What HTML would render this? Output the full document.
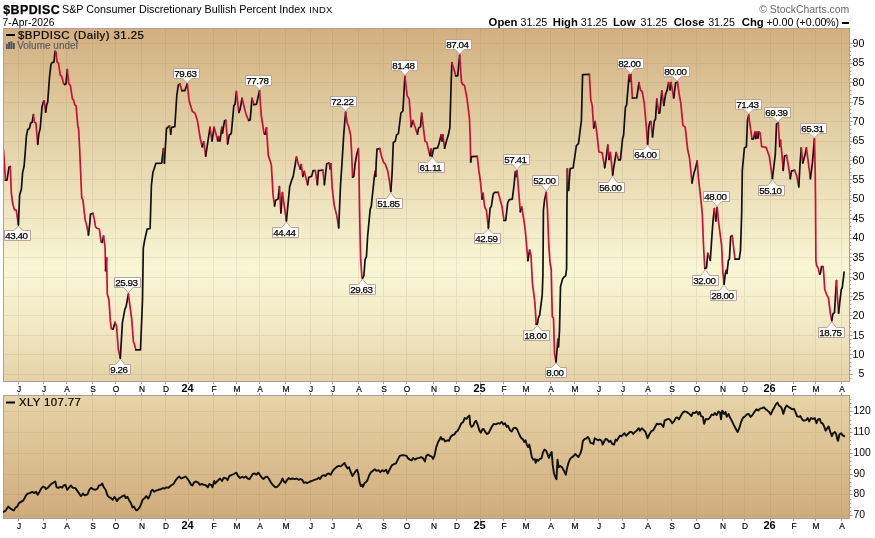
<!DOCTYPE html>
<html lang="en"><head><meta charset="utf-8"><title>$BPDISC - StockCharts</title>
<style>
#txt{position:absolute;left:0;top:0;width:875px;height:538px;opacity:0.999;will-change:transform;}
.r{stroke:#d00c38;}.k{stroke:#111;}
html,body{margin:0;padding:0;background:#fff;}
body{width:875px;height:538px;position:relative;overflow:hidden;font-family:"Liberation Sans",sans-serif;color:#000;}
.t{position:absolute;white-space:nowrap;line-height:1;}
.ttl{left:3.2px;top:4.1px;font-size:12.4px;font-weight:bold;letter-spacing:0.45px;-webkit-text-stroke:0.25px #000;}
.sub{left:62px;top:3.6px;font-size:10.75px;}
.indx{left:309.3px;top:5.2px;font-size:9.4px;letter-spacing:0.2px;}
.date{left:2.6px;top:17.5px;font-size:10.3px;letter-spacing:0.05px;}
.copy{right:25.7px;top:5.2px;font-size:10.45px;color:#6a6a6a;}
.oh{top:16.6px;font-size:10.67px;}
.oh b{font-weight:bold;font-size:11.3px;}
.leg{font-size:10px;letter-spacing:0.41px;transform:scaleX(1.14);transform-origin:0 0;-webkit-text-stroke:0.2px #000;}
.vol{font-size:10px;color:#595c68;letter-spacing:0px;-webkit-text-stroke:0.15px #595c68;}
.ax{position:absolute;left:852.6px;font-size:10.6px;line-height:1;white-space:nowrap;}
.mo{position:absolute;font-size:9.6px;line-height:1;width:30px;text-align:center;white-space:nowrap;transform:scaleX(0.87);-webkit-text-stroke:0.2px #000;}
.mo.yr{font-size:11px;font-weight:bold;transform:none;-webkit-text-stroke:0;}
.dl{position:absolute;font-size:9.8px;line-height:10px;height:10px;text-align:center;white-space:nowrap;color:#000;letter-spacing:-0.45px;-webkit-text-stroke:0.25px #000;}
</style></head><body>
<svg width="875" height="538" viewBox="0 0 875 538" style="position:absolute;left:0;top:0">
<defs>
<linearGradient id="g1" x1="0" y1="0" x2="0" y2="1"><stop offset="0" stop-color="#d3af80"/><stop offset="0.23" stop-color="#dfca9e"/><stop offset="0.46" stop-color="#ece0b9"/><stop offset="0.68" stop-color="#f9f6d4"/><stop offset="0.85" stop-color="#f2e8c3"/><stop offset="1" stop-color="#e5d1a5"/></linearGradient>
<linearGradient id="g2" x1="0" y1="0" x2="0" y2="1"><stop offset="0" stop-color="#e7d4a7"/><stop offset="1" stop-color="#d0ab7c"/></linearGradient>
</defs>
<rect x="3.5" y="28.5" width="846" height="353" fill="url(#g1)" stroke="#b39c9c" stroke-width="1"/>
<rect x="3.5" y="395.5" width="846" height="123" fill="url(#g2)" stroke="#b39c9c" stroke-width="1"/>
<path d="M18.5 29V381M18.5 396V518M43.5 29V381M43.5 396V518M66.5 29V381M66.5 396V518M92.5 29V381M92.5 396V518M115.5 29V381M115.5 396V518M141.5 29V381M141.5 396V518M165.5 29V381M165.5 396V518M188.5 29V381M188.5 396V518M213.5 29V381M213.5 396V518M236.5 29V381M236.5 396V518M259.5 29V381M259.5 396V518M285.5 29V381M285.5 396V518M310.5 29V381M310.5 396V518M332.5 29V381M332.5 396V518M358.5 29V381M358.5 396V518M383.5 29V381M383.5 396V518M406.5 29V381M406.5 396V518M433.5 29V381M433.5 396V518M456.5 29V381M456.5 396V518M480.5 29V381M480.5 396V518M503.5 29V381M503.5 396V518M525.5 29V381M525.5 396V518M550.5 29V381M550.5 396V518M574.5 29V381M574.5 396V518M598.5 29V381M598.5 396V518M622.5 29V381M622.5 396V518M647.5 29V381M647.5 396V518M671.5 29V381M671.5 396V518M696.5 29V381M696.5 396V518M722.5 29V381M722.5 396V518M744.5 29V381M744.5 396V518M770.5 29V381M770.5 396V518M793.5 29V381M793.5 396V518M815.5 29V381M815.5 396V518M841.5 29V381M841.5 396V518M4 374.5H849M4 354.5H849M4 335.5H849M4 315.5H849M4 296.5H849M4 277.5H849M4 257.5H849M4 238.5H849M4 218.5H849M4 199.5H849M4 179.5H849M4 160.5H849M4 141.5H849M4 121.5H849M4 102.5H849M4 82.5H849M4 63.5H849M4 43.5H849M4 515.5H849M4 494.5H849M4 474.5H849M4 453.5H849M4 432.5H849M4 411.5H849" stroke="rgba(108,96,84,0.11)" stroke-width="1" fill="none" shape-rendering="crispEdges"/>
<path d="M850 378.5h1.3M850 374.5h2.6M850 370.5h1.3M850 366.5h1.3M850 362.5h1.3M850 358.5h1.3M850 354.5h2.6M850 350.5h1.3M850 347.5h1.3M850 343.5h1.3M850 339.5h1.3M850 335.5h2.6M850 331.5h1.3M850 327.5h1.3M850 323.5h1.3M850 319.5h1.3M850 315.5h2.6M850 312.5h1.3M850 308.5h1.3M850 304.5h1.3M850 300.5h1.3M850 296.5h2.6M850 292.5h1.3M850 288.5h1.3M850 284.5h1.3M850 280.5h1.3M850 277.5h2.6M850 273.5h1.3M850 269.5h1.3M850 265.5h1.3M850 261.5h1.3M850 257.5h2.6M850 253.5h1.3M850 249.5h1.3M850 245.5h1.3M850 242.5h1.3M850 238.5h2.6M850 234.5h1.3M850 230.5h1.3M850 226.5h1.3M850 222.5h1.3M850 218.5h2.6M850 214.5h1.3M850 210.5h1.3M850 207.5h1.3M850 203.5h1.3M850 199.5h2.6M850 195.5h1.3M850 191.5h1.3M850 187.5h1.3M850 183.5h1.3M850 179.5h2.6M850 175.5h1.3M850 172.5h1.3M850 168.5h1.3M850 164.5h1.3M850 160.5h2.6M850 156.5h1.3M850 152.5h1.3M850 148.5h1.3M850 144.5h1.3M850 141.5h2.6M850 137.5h1.3M850 133.5h1.3M850 129.5h1.3M850 125.5h1.3M850 121.5h2.6M850 117.5h1.3M850 113.5h1.3M850 109.5h1.3M850 106.5h1.3M850 102.5h2.6M850 98.5h1.3M850 94.5h1.3M850 90.5h1.3M850 86.5h1.3M850 82.5h2.6M850 78.5h1.3M850 74.5h1.3M850 71.5h1.3M850 67.5h1.3M850 63.5h2.6M850 59.5h1.3M850 55.5h1.3M850 51.5h1.3M850 47.5h1.3M850 43.5h2.6M850 515.5h2.6M850 511.5h1.3M850 507.5h1.3M850 503.5h1.3M850 499.5h1.3M850 494.5h2.6M850 490.5h1.3M850 486.5h1.3M850 482.5h1.3M850 478.5h1.3M850 474.5h2.6M850 469.5h1.3M850 465.5h1.3M850 461.5h1.3M850 457.5h1.3M850 453.5h2.6M850 449.5h1.3M850 444.5h1.3M850 440.5h1.3M850 436.5h1.3M850 432.5h2.6M850 428.5h1.3M850 424.5h1.3M850 420.5h1.3M850 415.5h1.3M850 411.5h2.6M850 407.5h1.3M850 403.5h1.3M850 399.5h1.3M18.5 382v2M18.5 393v2M18.5 519v2M43.5 382v2M43.5 393v2M43.5 519v2M66.5 382v2M66.5 393v2M66.5 519v2M92.5 382v2M92.5 393v2M92.5 519v2M115.5 382v2M115.5 393v2M115.5 519v2M141.5 382v2M141.5 393v2M141.5 519v2M165.5 382v2M165.5 393v2M165.5 519v2M188.5 382v2M188.5 393v2M188.5 519v2M213.5 382v2M213.5 393v2M213.5 519v2M236.5 382v2M236.5 393v2M236.5 519v2M259.5 382v2M259.5 393v2M259.5 519v2M285.5 382v2M285.5 393v2M285.5 519v2M310.5 382v2M310.5 393v2M310.5 519v2M332.5 382v2M332.5 393v2M332.5 519v2M358.5 382v2M358.5 393v2M358.5 519v2M383.5 382v2M383.5 393v2M383.5 519v2M406.5 382v2M406.5 393v2M406.5 519v2M433.5 382v2M433.5 393v2M433.5 519v2M456.5 382v2M456.5 393v2M456.5 519v2M480.5 382v2M480.5 393v2M480.5 519v2M503.5 382v2M503.5 393v2M503.5 519v2M525.5 382v2M525.5 393v2M525.5 519v2M550.5 382v2M550.5 393v2M550.5 519v2M574.5 382v2M574.5 393v2M574.5 519v2M598.5 382v2M598.5 393v2M598.5 519v2M622.5 382v2M622.5 393v2M622.5 519v2M647.5 382v2M647.5 393v2M647.5 519v2M671.5 382v2M671.5 393v2M671.5 519v2M696.5 382v2M696.5 393v2M696.5 519v2M722.5 382v2M722.5 393v2M722.5 519v2M744.5 382v2M744.5 393v2M744.5 519v2M770.5 382v2M770.5 393v2M770.5 519v2M793.5 382v2M793.5 393v2M793.5 519v2M815.5 382v2M815.5 393v2M815.5 519v2M841.5 382v2M841.5 393v2M841.5 519v2" stroke="#b39c9c" stroke-width="1" fill="none"/>
<path d="M18.5 532v1M43.5 532v1M66.5 532v1M92.5 532v1M115.5 532v1M141.5 532v1M165.5 532v1M188.5 532v1M213.5 532v1M236.5 532v1M259.5 532v1M285.5 532v1M310.5 532v1M332.5 532v1M358.5 532v1M383.5 532v1M406.5 532v1M433.5 532v1M456.5 532v1M480.5 532v1M503.5 532v1M525.5 532v1M550.5 532v1M574.5 532v1M598.5 532v1M622.5 532v1M647.5 532v1M671.5 532v1M696.5 532v1M722.5 532v1M744.5 532v1M770.5 532v1M793.5 532v1M815.5 532v1M841.5 532v1" stroke="#b39c9c" stroke-opacity="0.35" stroke-width="1" fill="none"/>
<clipPath id="c1"><rect x="4" y="29" width="845" height="352"/></clipPath>
<g clip-path="url(#c1)" fill="none" stroke-width="1.7" stroke-linejoin="round" stroke-linecap="round">
<path class="r" d="M3.5 150.0L4.5 165.0L5.5 180.2"/>
<path class="k" d="M5.5 180.2L7.0 180.2L9.0 167.1L10.3 166.6"/>
<path class="r" d="M10.3 166.6L11.3 192.7L12.6 202.8L14.3 209.6L16.3 210.3L18.4 224.9"/>
<path class="k" d="M18.4 224.9L19.6 195.3L21.4 189.0L22.6 172.6L24.1 166.3L24.6 160.0L25.4 150.0L26.4 136.0L27.6 129.8L29.4 128.5L30.7 123.0L32.2 122.2L33.4 114.7"/>
<path class="r" d="M33.4 114.7L34.4 122.2L35.9 123.0L37.7 144.3"/>
<path class="k" d="M37.7 144.3L38.9 133.5L40.2 128.5L42.0 107.0L43.5 101.4L44.2 100.9"/>
<path class="r" d="M44.2 100.9L45.7 112.2"/>
<path class="k" d="M45.7 112.2L46.7 104.6L47.7 102.1L49.5 77.0L51.0 64.4L52.0 62.7L54.0 61.9L55.0 51.4"/>
<path class="r" d="M55.0 51.4L56.0 51.9L57.0 61.9L58.5 63.2L60.3 75.2L61.8 76.5L63.6 83.8L64.8 84.5"/>
<path class="k" d="M64.8 84.5L66.0 83.8L67.3 69.5"/>
<path class="r" d="M67.3 69.5L68.8 83.8L70.4 85.3L72.4 98.9L73.6 100.1L74.6 104.6L76.1 105.9L77.9 127.2L78.6 128.5L79.7 150.0L81.7 197.8L83.0 200.3L85.0 219.1L86.7 225.4L88.5 235.0"/>
<path class="k" d="M88.5 235.0L89.8 222.9L90.5 214.1L93.0 213.4"/>
<path class="r" d="M93.0 213.4L94.3 219.1L95.5 226.7L96.8 228.3L99.3 229.0L101.1 241.8L102.1 242.3"/>
<path class="k" d="M102.1 242.3L103.6 236.0"/>
<path class="r" d="M103.6 236.0L105.1 248.1L105.6 270.7"/>
<path class="k" d="M105.6 270.7L106.6 258.1"/>
<path class="r" d="M106.6 258.1L107.3 294.0L109.0 300.3L110.3 320.4L111.3 328.7L113.0 329.2"/>
<path class="k" d="M113.0 329.2L115.1 322.4"/>
<path class="r" d="M115.1 322.4L116.6 326.7L118.3 349.3L120.3 358.1"/>
<path class="k" d="M120.3 358.1L122.4 322.9L124.9 309.1L126.1 306.6L128.4 294.0"/>
<path class="r" d="M128.4 294.0L131.7 319.1L133.4 341.8L134.4 344.3L135.9 349.8"/>
<path class="k" d="M135.9 349.8L140.5 349.8L142.5 300.3L143.3 248.1L144.6 240.5L147.1 229.2L150.1 228.5L151.4 185.2L152.9 172.6L154.1 168.9L155.9 163.3L161.7 163.1L163.4 148.6"/>
<path class="r" d="M163.4 148.6L164.4 163.1"/>
<path class="k" d="M164.4 163.1L166.5 128.5L169.5 125.9"/>
<path class="r" d="M169.5 125.9L170.7 134.2"/>
<path class="k" d="M170.7 134.2L171.5 127.4L174.8 126.7L176.8 95.3L178.3 85.2L179.8 83.9"/>
<path class="r" d="M179.8 83.9L182.0 90.7"/>
<path class="k" d="M182.0 90.7L184.8 90.7L187.3 83.9"/>
<path class="r" d="M187.3 83.9L189.1 100.3L190.3 104.8L192.4 111.6L194.9 112.9L197.4 120.4L200.4 139.3L202.2 146.8"/>
<path class="k" d="M202.2 146.8L203.7 141.8"/>
<path class="r" d="M203.7 141.8L205.7 156.1"/>
<path class="k" d="M205.7 156.1L210.0 127.4"/>
<path class="r" d="M210.0 127.4L212.0 141.0"/>
<path class="k" d="M212.0 141.0L214.2 127.4"/>
<path class="r" d="M214.2 127.4L217.8 141.0"/>
<path class="k" d="M217.8 141.0L218.5 136.7"/>
<path class="r" d="M218.5 136.7L220.0 141.0"/>
<path class="k" d="M220.0 141.0L221.8 127.4"/>
<path class="r" d="M221.8 127.4L222.5 133.0"/>
<path class="k" d="M222.5 133.0L224.5 120.9L225.8 120.4"/>
<path class="r" d="M225.8 120.4L227.6 143.8"/>
<path class="k" d="M227.6 143.8L229.3 135.0L231.3 133.5L233.8 105.8L235.1 104.1L236.4 91.5"/>
<path class="r" d="M236.4 91.5L238.9 112.4"/>
<path class="k" d="M238.9 112.4L240.1 109.1L242.1 98.3"/>
<path class="r" d="M242.1 98.3L244.7 109.1L246.4 115.4L248.7 120.4"/>
<path class="k" d="M248.7 120.4L250.2 119.9L252.0 98.3"/>
<path class="r" d="M252.0 98.3L254.0 104.8"/>
<path class="k" d="M254.0 104.8L256.5 104.1L259.5 90.7"/>
<path class="r" d="M259.5 90.7L261.3 115.4L264.0 133.5L265.0 134.2"/>
<path class="k" d="M265.0 134.2L266.5 127.9"/>
<path class="r" d="M266.5 127.9L268.3 155.6L271.3 164.4L273.1 195.3L274.6 205.8"/>
<path class="k" d="M274.6 205.8L275.6 200.3L278.1 199.0L279.4 186.5"/>
<path class="r" d="M279.4 186.5L280.9 212.9"/>
<path class="k" d="M280.9 212.9L282.4 192.7"/>
<path class="r" d="M282.4 192.7L286.4 220.9"/>
<path class="k" d="M286.4 220.9L287.9 205.3L289.7 186.5L291.7 180.2L293.2 176.4L296.5 157.0"/>
<path class="r" d="M296.5 157.0L298.2 163.8L300.3 168.9"/>
<path class="k" d="M300.3 168.9L301.3 164.6"/>
<path class="r" d="M301.3 164.6L302.8 176.4"/>
<path class="k" d="M302.8 176.4L304.3 171.4"/>
<path class="r" d="M304.3 171.4L307.6 184.7"/>
<path class="k" d="M307.6 184.7L308.8 177.2L311.6 176.4L313.1 170.6L315.3 170.6"/>
<path class="r" d="M315.3 170.6L317.4 184.7"/>
<path class="k" d="M317.4 184.7L318.4 170.6L322.9 170.1"/>
<path class="r" d="M322.9 170.1L324.4 184.7"/>
<path class="k" d="M324.4 184.7L326.7 163.8L329.2 163.1"/>
<path class="r" d="M329.2 163.1L330.2 168.9"/>
<path class="k" d="M330.2 168.9L330.9 163.8"/>
<path class="r" d="M330.9 163.8L332.2 187.7L334.2 205.3L336.7 215.4L338.7 227.9"/>
<path class="k" d="M338.7 227.9L340.5 185.2L342.0 163.0L343.8 133.6L345.6 112.2"/>
<path class="r" d="M345.6 112.2L347.1 122.3L348.8 127.3L350.6 134.9L351.5 150.0L352.6 177.2"/>
<path class="k" d="M352.6 177.2L353.8 176.4L355.1 163.8L356.9 153.7L358.4 148.7"/>
<path class="r" d="M358.4 148.7L358.9 163.0L359.6 212.9L360.6 258.1L361.9 277.0L362.6 278.2"/>
<path class="k" d="M362.6 278.2L363.9 275.7L365.1 259.4L366.4 256.9L367.6 236.7L370.2 209.1L371.2 206.6L374.4 176.4L375.2 171.4"/>
<path class="r" d="M375.2 171.4L375.7 176.4"/>
<path class="k" d="M375.7 176.4L376.2 163.0L377.0 149.2L379.8 148.7"/>
<path class="r" d="M379.8 148.7L381.5 156.2L383.7 162.6L385.2 163.8L387.8 171.4L389.5 181.4L390.8 191.5"/>
<path class="k" d="M390.8 191.5L392.0 175.1L392.5 163.0L393.3 142.4L395.3 141.2L396.6 134.9L398.4 133.6L400.9 113.0L402.9 111.0L404.9 76.3"/>
<path class="r" d="M404.9 76.3L407.2 95.9L409.2 98.9L411.2 126.6"/>
<path class="k" d="M411.2 126.6L412.9 120.5"/>
<path class="r" d="M412.9 120.5L415.5 128.6L417.5 134.1"/>
<path class="k" d="M417.5 134.1L418.5 128.1L420.5 126.8L421.7 113.0"/>
<path class="r" d="M421.7 113.0L423.5 128.6L425.0 141.2L426.8 142.4L429.3 153.2L430.0 155.7"/>
<path class="k" d="M430.0 155.7L431.0 149.2"/>
<path class="r" d="M431.0 149.2L432.1 156.2"/>
<path class="k" d="M432.1 156.2L433.6 148.7L437.6 147.9L439.3 142.4L441.1 134.9"/>
<path class="r" d="M441.1 134.9L442.1 141.2"/>
<path class="k" d="M442.1 141.2L442.9 134.9"/>
<path class="r" d="M442.9 134.9L444.6 148.2"/>
<path class="k" d="M444.6 148.2L446.4 141.2L448.2 135.6L449.9 127.3L451.2 80.8L451.9 62.7"/>
<path class="r" d="M451.9 62.7L453.7 68.2L455.7 75.8"/>
<path class="k" d="M455.7 75.8L457.7 75.8L459.7 55.2"/>
<path class="r" d="M459.7 55.2L461.5 82.1L462.7 84.6L464.5 85.3L467.0 98.4L469.5 118.5L470.3 142.4L470.7 162.0"/>
<path class="k" d="M470.7 162.0L471.5 156.7L477.3 156.3"/>
<path class="r" d="M477.3 156.3L478.8 170.2L480.6 182.8L482.1 199.1"/>
<path class="k" d="M482.1 199.1L483.1 193.3"/>
<path class="r" d="M483.1 193.3L484.6 206.7L486.4 210.4L488.4 228.0"/>
<path class="k" d="M488.4 228.0L490.1 207.9L491.4 206.2L493.2 194.1L494.7 192.3L498.2 192.3"/>
<path class="r" d="M498.2 192.3L500.2 199.9L502.0 206.7L504.0 220.5"/>
<path class="k" d="M504.0 220.5L505.7 220.5L507.7 202.9L509.3 199.6L512.3 199.1L514.0 185.3L515.3 171.5"/>
<path class="r" d="M515.3 171.5L516.0 176.5"/>
<path class="k" d="M516.0 176.5L517.0 171.0"/>
<path class="r" d="M517.0 171.0L519.1 196.6L520.3 211.7"/>
<path class="k" d="M520.3 211.7L521.8 207.2"/>
<path class="r" d="M521.8 207.2L524.1 221.7L525.3 230.5L527.9 260.7"/>
<path class="k" d="M527.9 260.7L529.6 250.0"/>
<path class="r" d="M529.6 250.0L531.0 255.3L532.4 282.7L534.9 302.8L536.2 324.2"/>
<path class="k" d="M536.2 324.2L537.4 324.2L538.4 317.9L539.7 314.9L542.2 295.3L542.9 275.1L543.2 240.0L543.4 210.4L544.5 200.4L546.2 192.3"/>
<path class="r" d="M546.2 192.3L547.5 210.4L548.7 243.1L550.0 262.6L551.2 268.9L552.3 316.6L553.5 317.9L554.5 353.1L556.0 361.9"/>
<path class="k" d="M556.0 361.9L557.3 346.8L557.8 339.3"/>
<path class="r" d="M557.8 339.3L558.5 346.8"/>
<path class="k" d="M558.5 346.8L559.5 330.5L560.5 286.5L562.6 278.9L563.8 277.2L565.6 275.9L566.6 268.9L566.9 210.4L567.3 168.9"/>
<path class="r" d="M567.3 168.9L568.6 190.3"/>
<path class="k" d="M568.6 190.3L570.1 168.7L573.1 168.0L576.4 145.6L578.5 143.7L581.4 120.5L582.6 74.6L589.4 74.4"/>
<path class="r" d="M589.4 74.4L590.7 99.1L592.2 105.4L593.7 128.0"/>
<path class="k" d="M593.7 128.0L595.2 121.7"/>
<path class="r" d="M595.2 121.7L597.0 134.3L598.9 152.0L602.1 152.6L604.7 167.7"/>
<path class="k" d="M604.7 167.7L606.1 159.0L607.8 145.1"/>
<path class="r" d="M607.8 145.1L609.0 159.4"/>
<path class="k" d="M609.0 159.4L610.4 152.6"/>
<path class="r" d="M610.4 152.6L612.7 175.0"/>
<path class="k" d="M612.7 175.0L613.6 168.2L615.0 160.0L616.2 152.6"/>
<path class="r" d="M616.2 152.6L618.6 159.9"/>
<path class="k" d="M618.6 159.9L620.4 159.9L622.6 138.4L623.6 135.3L625.4 107.4L626.6 104.9L629.1 75.2"/>
<path class="r" d="M629.1 75.2L629.9 81.5"/>
<path class="k" d="M629.9 81.5L630.9 74.7"/>
<path class="r" d="M630.9 74.7L632.4 98.0"/>
<path class="k" d="M632.4 98.0L636.7 98.0L639.0 82.7"/>
<path class="r" d="M639.0 82.7L640.5 90.3L642.2 91.5L644.2 102.9L646.2 125.5L647.6 144.2"/>
<path class="k" d="M647.6 144.2L648.8 126.7L650.0 121.7L651.0 121.7"/>
<path class="r" d="M651.0 121.7L652.5 136.8"/>
<path class="k" d="M652.5 136.8L654.3 121.0L655.5 119.2L656.8 99.1"/>
<path class="r" d="M656.8 99.1L658.8 112.9"/>
<path class="k" d="M658.8 112.9L659.8 112.9L661.8 90.8"/>
<path class="r" d="M661.8 90.8L663.8 105.4"/>
<path class="k" d="M663.8 105.4L665.6 94.1L667.1 90.3L668.6 82.7"/>
<path class="r" d="M668.6 82.7L670.1 89.8"/>
<path class="k" d="M670.1 89.8L671.1 82.7"/>
<path class="r" d="M671.1 82.7L673.7 97.8"/>
<path class="k" d="M673.7 97.8L675.7 82.7L677.4 82.2"/>
<path class="r" d="M677.4 82.2L679.4 95.3L680.9 103.8L682.9 125.3L685.2 127.2L687.7 149.8L689.5 158.0L692.0 183.0"/>
<path class="k" d="M692.0 183.0L694.0 172.9L695.2 169.2L697.2 160.9"/>
<path class="r" d="M697.2 160.9L698.2 175.5L701.0 200.6L702.3 213.8L703.5 245.3L704.8 268.4"/>
<path class="k" d="M704.8 268.4L706.5 267.9L707.8 253.3"/>
<path class="r" d="M707.8 253.3L710.3 260.3"/>
<path class="k" d="M710.3 260.3L712.3 230.2L713.3 218.2L714.4 208.5"/>
<path class="r" d="M714.4 208.5L715.8 221.0"/>
<path class="k" d="M715.8 221.0L717.2 207.4"/>
<path class="r" d="M717.2 207.4L718.5 221.5L721.6 245.3L722.9 272.9L724.1 284.2"/>
<path class="k" d="M724.1 284.2L725.4 272.9L726.2 270.4"/>
<path class="r" d="M726.2 270.4L726.9 273.4"/>
<path class="k" d="M726.9 273.4L728.4 260.3L729.4 259.1L730.7 236.5L732.2 235.7"/>
<path class="r" d="M732.2 235.7L733.5 246.5L735.0 259.1"/>
<path class="k" d="M735.0 259.1L739.2 259.1L740.5 250.3L741.7 212.6L742.3 170.4L744.4 148.0L746.4 146.7L747.5 120.1L748.7 115.2"/>
<path class="r" d="M748.7 115.2L750.3 127.0L752.0 138.8"/>
<path class="k" d="M752.0 138.8L753.6 139.0L754.9 132.0"/>
<path class="r" d="M754.9 132.0L755.9 138.4"/>
<path class="k" d="M755.9 138.4L756.9 132.0"/>
<path class="r" d="M756.9 132.0L757.9 138.0"/>
<path class="k" d="M757.9 138.0L758.9 132.0"/>
<path class="r" d="M758.9 132.0L760.1 133.0L761.7 146.6L766.1 147.4L769.3 156.2L772.4 178.7"/>
<path class="k" d="M772.4 178.7L775.3 154.5L776.5 124.0L778.2 123.1"/>
<path class="r" d="M778.2 123.1L779.7 146.5"/>
<path class="k" d="M779.7 146.5L780.5 140.3"/>
<path class="r" d="M780.5 140.3L782.0 155.3L783.2 170.4"/>
<path class="k" d="M783.2 170.4L784.5 156.1L786.5 155.3"/>
<path class="r" d="M786.5 155.3L788.3 165.4L790.3 178.7"/>
<path class="k" d="M790.3 178.7L791.5 170.9L794.6 170.4"/>
<path class="r" d="M794.6 170.4L796.6 175.5L798.8 186.8"/>
<path class="k" d="M798.8 186.8L800.1 162.9L801.3 147.8"/>
<path class="r" d="M801.3 147.8L802.8 162.9"/>
<path class="k" d="M802.8 162.9L804.9 155.3L806.4 147.8"/>
<path class="r" d="M806.4 147.8L808.4 162.9L810.4 178.7"/>
<path class="k" d="M810.4 178.7L812.4 162.9L814.4 139.0"/>
<path class="r" d="M814.4 139.0L815.2 170.4L815.5 200.0L815.9 260.3L816.7 265.9L817.9 267.4L819.7 274.2"/>
<path class="k" d="M819.7 274.2L820.5 272.9L821.5 266.6L823.0 266.6"/>
<path class="r" d="M823.0 266.6L823.7 272.9L824.7 289.3L826.5 294.3L828.5 298.1L830.3 313.2L831.8 320.7"/>
<path class="k" d="M831.8 320.7L833.0 313.7L834.5 312.6L835.5 295.5L836.5 280.5"/>
<path class="r" d="M836.5 280.5L837.3 295.5L838.6 313.2"/>
<path class="k" d="M838.6 313.2L839.8 301.8L841.3 289.3L842.3 287.5L844.1 272.2"/>
</g>
<path d="M3.8 511.7L5.5 510.7L8.3 506.6L11.3 509.2L13.8 510.4L15.6 507.4L17.1 506.9L18.9 503.1L21.4 501.6L23.4 500.4L26.4 494.8L27.7 493.6L30.2 492.8L32.2 491.8L34.0 493.1L36.0 491.8L37.7 494.8L39.5 491.8L41.5 488.1L43.2 486.5L44.8 487.3L45.8 489.1L47.8 487.8L50.3 484.8L52.8 483.0L55.3 481.5L56.6 487.3L58.3 487.8L60.4 486.8L62.1 487.8L63.6 485.5L65.4 484.8L67.1 489.8L69.2 487.3L70.9 485.5L72.9 487.8L75.4 488.1L77.5 491.1L80.0 494.8L81.0 496.1L83.0 493.6L84.7 495.3L87.5 494.3L89.3 489.8L91.0 487.8L93.0 489.1L95.0 489.8L97.6 488.6L98.8 485.5L100.6 485.3L102.3 483.5L103.8 487.3L105.6 489.8L107.6 495.6L109.4 497.4L111.1 498.1L112.7 499.9L114.4 496.9L115.7 498.6L116.9 501.1L118.7 498.6L120.7 497.4L122.5 496.1L124.5 495.3L125.7 498.1L127.5 496.9L129.0 499.9L130.8 502.9L132.5 507.4L134.0 506.6L135.8 509.9L137.0 510.4L139.1 508.2L140.8 504.9L142.6 499.9L144.6 498.1L146.3 496.1L148.3 498.6L150.1 494.8L151.4 490.6L152.6 489.8L154.1 491.8L155.9 490.6L158.4 489.8L160.9 489.3L162.9 488.1L164.7 488.6L166.5 487.3L168.5 487.8L171.0 485.5L173.5 484.0L176.0 479.8L177.8 477.7L179.3 476.5L181.0 478.5L183.1 477.7L185.6 476.5L187.3 478.5L189.3 481.5L191.1 484.8L192.4 485.5L194.1 482.3L196.1 481.5L197.9 482.3L199.9 484.8L201.9 484.0L204.2 484.8L206.2 485.5L207.9 487.3L209.4 484.0L211.2 484.8L212.5 487.3L214.2 481.0L215.0 483.5L217.5 481.0L220.0 478.5L222.0 481.0L223.8 477.7L226.3 478.5L227.6 480.2L229.3 476.0L231.3 475.2L233.9 474.0L236.4 472.7L238.1 476.0L240.1 478.0L242.2 476.7L243.9 477.7L245.7 476.5L247.7 478.5L249.4 479.2L251.5 476.0L252.7 474.0L254.7 473.5L256.5 474.7L258.2 472.7L259.8 474.7L261.5 477.2L263.5 479.0L265.3 477.2L267.1 476.7L269.1 479.0L270.8 482.3L273.3 485.5L275.4 487.3L277.1 486.8L279.1 484.8L280.9 482.3L282.4 478.5L284.1 481.8L285.4 482.8L287.2 479.8L288.7 478.0L290.4 479.2L292.4 478.5L295.0 479.2L296.7 478.5L298.7 479.8L300.5 479.0L302.2 479.8L303.8 482.8L305.5 482.3L307.5 483.0L310.1 481.5L311.8 481.0L314.3 479.8L316.8 479.2L318.6 477.7L320.1 479.0L321.9 476.0L323.6 475.2L325.6 476.0L326.9 474.2L328.6 473.5L330.7 474.7L332.4 471.4L334.4 468.9L336.4 467.2L338.7 465.9L340.7 466.4L342.7 464.7L344.5 462.9L345.8 465.9L347.5 468.4L349.0 467.2L350.8 472.2L352.5 476.0L354.1 473.5L355.8 470.9L357.1 469.7L358.3 473.5L359.6 482.3L360.8 486.0L362.1 484.8L362.9 486.8L364.6 483.0L366.4 481.8L367.6 479.8L369.1 475.5L370.9 472.2L372.9 470.9L374.7 469.2L376.4 470.9L378.4 470.2L380.2 472.2L382.2 470.2L384.0 471.4L386.0 469.7L387.7 473.5L389.8 469.2L391.8 465.4L394.0 464.2L396.0 463.4L397.8 459.6L399.8 455.9L402.3 455.1L404.8 455.4L406.6 455.9L408.1 458.4L409.9 459.6L411.6 460.4L413.1 457.9L414.9 459.6L416.9 458.4L419.2 457.9L421.2 457.1L423.2 458.4L425.0 461.4L426.2 455.9L428.2 454.6L430.0 455.9L431.8 456.6L433.0 458.9L434.5 455.9L436.3 447.1L438.1 442.0L439.6 439.5L440.8 437.0L442.1 439.5L443.8 439.0L445.1 441.5L447.1 440.3L448.9 440.8L450.6 437.0L452.6 435.0L454.4 434.5L455.9 432.0L457.7 430.7L459.7 426.9L461.4 423.2L463.2 421.9L464.7 418.1L466.5 418.9L467.7 416.9L469.5 415.6L470.2 424.4L471.5 426.9L473.2 425.7L474.8 421.9L476.0 420.7L477.8 425.2L479.5 430.7L480.8 432.7L482.3 429.5L483.6 429.0L485.3 432.0L487.1 434.0L488.6 433.2L490.4 429.5L492.1 426.2L493.6 423.9L495.9 424.4L497.9 423.2L499.9 423.7L501.7 421.9L503.4 424.4L504.9 423.2L506.7 426.9L507.9 425.7L510.0 430.2L511.7 431.5L513.5 428.2L515.5 427.7L517.2 429.5L519.3 434.5L521.0 437.8L523.0 439.5L524.3 442.0L525.5 440.3L526.8 444.6L528.1 447.1L529.3 444.6L530.6 450.8L531.8 457.1L533.1 459.6L534.9 459.1L535.6 462.9L536.9 459.6L538.1 460.9L539.9 458.9L541.4 458.4L543.1 452.1L544.4 449.6L546.2 450.8L547.7 454.6L548.9 457.9L550.7 453.4L551.7 452.1L552.7 464.7L554.0 473.5L555.7 478.0L556.5 479.2L557.5 459.6L558.7 467.2L560.2 465.9L562.0 467.2L564.0 470.9L565.8 474.7L567.0 468.4L568.3 463.4L570.1 458.9L572.1 457.1L573.8 455.9L575.3 453.9L576.6 455.4L578.4 457.1L580.4 453.4L581.6 449.6L582.9 440.8L584.6 439.0L586.4 438.3L587.9 437.0L589.2 439.0L590.4 442.8L592.2 443.3L593.4 444.0L594.7 438.3L596.0 439.0L598.0 440.3L599.7 439.5L601.5 440.8L602.7 444.6L604.0 442.0L605.5 439.0L607.3 439.5L609.0 442.0L610.5 440.8L612.3 444.0L614.1 444.6L615.6 439.5L616.8 440.8L618.6 437.8L619.8 435.8L621.6 436.2L623.1 434.5L624.4 433.2L626.1 435.8L627.9 434.0L629.9 432.0L631.7 432.0L633.2 434.0L634.9 432.0L636.7 430.7L638.7 428.2L640.0 430.7L641.8 428.2L643.8 430.2L645.5 432.0L647.5 438.3L649.3 434.5L651.3 431.2L653.3 430.2L655.1 426.9L656.9 423.7L658.9 424.4L660.6 423.7L662.1 425.2L663.4 426.9L664.6 420.7L666.9 419.4L668.9 418.9L670.7 420.7L672.2 423.2L674.0 421.4L675.7 418.1L677.2 417.4L679.0 419.4L680.7 416.1L682.8 412.6L684.5 411.4L686.5 411.9L688.3 413.1L689.8 414.4L691.5 416.1L692.8 412.6L694.8 413.1L696.6 411.4L698.3 414.4L699.6 411.9L701.1 416.1L702.9 416.9L704.1 423.9L705.9 418.9L707.9 419.4L709.6 418.1L711.7 414.4L713.4 415.1L714.9 413.1L716.7 415.1L718.5 411.4L720.0 412.6L721.0 419.4L722.2 410.6L724.2 413.9L725.5 411.9L726.8 416.9L728.5 413.9L730.0 417.6L731.8 420.7L733.5 424.4L735.5 428.2L737.6 432.0L739.3 428.2L741.1 421.9L743.1 417.6L745.1 416.4L746.9 414.4L748.6 413.9L750.6 416.9L752.4 415.1L754.4 411.9L756.4 409.3L758.2 410.6L760.2 408.6L762.0 408.1L764.0 407.3L765.7 409.3L767.5 410.6L769.0 411.9L770.8 414.4L772.5 410.6L774.0 408.1L775.8 404.3L777.5 402.6L779.0 405.6L780.8 406.8L782.1 409.3L783.3 413.9L785.1 408.1L786.6 405.6L788.4 406.8L790.4 408.1L792.1 409.3L793.9 408.8L795.4 411.9L797.1 416.4L798.9 416.9L800.4 416.1L802.2 419.4L803.9 420.7L806.0 420.2L807.7 418.1L809.2 421.4L811.0 418.1L813.0 418.9L814.8 418.1L816.5 423.2L818.0 419.4L819.8 418.9L821.0 422.7L822.8 423.7L824.3 426.9L825.6 430.7L827.3 428.2L828.6 426.4L830.3 432.0L831.9 436.2L833.1 433.2L834.9 432.0L836.1 434.0L837.4 439.5L838.1 440.8L839.4 434.5L841.2 433.2L842.4 435.2L844.2 436.2" fill="none" stroke="#111111" stroke-width="1.9" stroke-linejoin="round" stroke-linecap="round"/>
<path d="M4.5 230.5H13.9L18.4 225.9L22.9 230.5H30.5v10h-26Z" fill="#fffdf8" stroke="#bba4a0"/>
<path d="M109.5 364.5H115.8L120.3 359.1L124.8 364.5H130.5v10h-21Z" fill="#fffdf8" stroke="#bba4a0"/>
<path d="M114.5 277.5h26v10H132.9L128.4 293.0L123.9 287.5H114.5Z" fill="#fffdf8" stroke="#bba4a0"/>
<path d="M173.5 68.5h26v10H191.8L187.3 82.9L182.8 78.5H173.5Z" fill="#fffdf8" stroke="#bba4a0"/>
<path d="M245.5 75.5h26v10H264.0L259.5 89.7L255.0 85.5H245.5Z" fill="#fffdf8" stroke="#bba4a0"/>
<path d="M272.5 227.5H281.9L286.4 221.9L290.9 227.5H298.5v10h-26Z" fill="#fffdf8" stroke="#bba4a0"/>
<path d="M330.5 96.5h26v10H350.1L345.6 111.2L341.1 106.5H330.5Z" fill="#fffdf8" stroke="#bba4a0"/>
<path d="M349.5 284.5H358.1L362.6 279.2L367.1 284.5H375.5v10h-26Z" fill="#fffdf8" stroke="#bba4a0"/>
<path d="M376.5 198.5H386.3L390.8 192.5L395.3 198.5H402.5v10h-26Z" fill="#fffdf8" stroke="#bba4a0"/>
<path d="M391.5 60.5h26v10H409.4L404.9 75.3L400.4 70.5H391.5Z" fill="#fffdf8" stroke="#bba4a0"/>
<path d="M418.5 162.5H427.8L432.3 157.2L436.8 162.5H444.5v10h-26Z" fill="#fffdf8" stroke="#bba4a0"/>
<path d="M445.5 39.5h26v10H464.2L459.7 54.2L455.2 49.5H445.5Z" fill="#fffdf8" stroke="#bba4a0"/>
<path d="M474.5 233.5H483.9L488.4 229.0L492.9 233.5H500.5v10h-26Z" fill="#fffdf8" stroke="#bba4a0"/>
<path d="M503.5 154.5h26v10H521.5L517.0 170.0L512.5 164.5H503.5Z" fill="#fffdf8" stroke="#bba4a0"/>
<path d="M523.5 330.5H532.9L537.4 325.2L541.9 330.5H549.5v10h-26Z" fill="#fffdf8" stroke="#bba4a0"/>
<path d="M532.5 175.5h26v10H550.7L546.2 191.3L541.7 185.5H532.5Z" fill="#fffdf8" stroke="#bba4a0"/>
<path d="M545.5 367.5H551.5L556.0 362.9L560.5 367.5H566.5v10h-21Z" fill="#fffdf8" stroke="#bba4a0"/>
<path d="M598.5 182.5H608.1L612.6 176.0L617.1 182.5H624.5v10h-26Z" fill="#fffdf8" stroke="#bba4a0"/>
<path d="M617.5 58.5h26v10H634.9L630.4 73.7L625.9 68.5H617.5Z" fill="#fffdf8" stroke="#bba4a0"/>
<path d="M633.5 149.5H643.1L647.6 145.2L652.1 149.5H659.5v10h-26Z" fill="#fffdf8" stroke="#bba4a0"/>
<path d="M663.5 66.5h26v10H681.4L676.9 81.2L672.4 76.5H663.5Z" fill="#fffdf8" stroke="#bba4a0"/>
<path d="M692.5 275.5H700.8L705.3 269.4L709.8 275.5H718.5v10h-26Z" fill="#fffdf8" stroke="#bba4a0"/>
<path d="M703.5 191.5h26v10H721.7L717.2 206.4L712.7 201.5H703.5Z" fill="#fffdf8" stroke="#bba4a0"/>
<path d="M710.5 290.5H719.6L724.1 285.2L728.6 290.5H736.5v10h-26Z" fill="#fffdf8" stroke="#bba4a0"/>
<path d="M735.5 99.5h26v10H753.2L748.7 114.2L744.2 109.5H735.5Z" fill="#fffdf8" stroke="#bba4a0"/>
<path d="M758.5 185.5H767.9L772.4 179.7L776.9 185.5H784.5v10h-26Z" fill="#fffdf8" stroke="#bba4a0"/>
<path d="M764.5 107.5h26v10H782.2L777.7 122.1L773.2 117.5H764.5Z" fill="#fffdf8" stroke="#bba4a0"/>
<path d="M800.5 123.5h26v10H818.9L814.4 138.0L809.9 133.5H800.5Z" fill="#fffdf8" stroke="#bba4a0"/>
<path d="M818.5 327.5H827.3L831.8 321.7L836.3 327.5H844.5v10h-26Z" fill="#fffdf8" stroke="#bba4a0"/>
<rect x="6" y="34" width="9" height="2" fill="#000"/>
<rect x="6" y="401.5" width="9" height="2" fill="#000"/>
<rect x="842" y="22" width="7" height="2" fill="#000"/>
<g fill="#50535e"><rect x="6" y="44" width="1.8" height="5"/><rect x="8.1" y="42" width="1.9" height="7"/><rect x="10.4" y="41.4" width="2" height="7.6"/><rect x="12.8" y="43" width="2" height="6"/></g>
</svg>
<div id="txt">
<div class="t ttl">$BPDISC</div>
<div class="t sub">S&amp;P Consumer Discretionary Bullish Percent Index</div>
<div class="t indx">INDX</div>
<div class="t date">7-Apr-2026</div>
<div class="t copy">&copy; StockCharts.com</div>
<div class="t oh" style="left:488.6px"><b>Open</b></div>
<div class="t oh" style="left:520.6px">31.25</div>
<div class="t oh" style="left:552.8px"><b>High</b></div>
<div class="t oh" style="left:580.8px">31.25</div>
<div class="t oh" style="left:612.9px"><b>Low</b></div>
<div class="t oh" style="left:640.6px">31.25</div>
<div class="t oh" style="left:673.7px"><b>Close</b></div>
<div class="t oh" style="left:708.2px">31.25</div>
<div class="t oh" style="left:741.8px"><b>Chg</b></div>
<div class="t oh" style="left:766.4px">+0.00</div>
<div class="t oh" style="left:796.0px">(+0.00</div>
<div class="t oh" style="left:826.1px">%)</div>
<div class="t leg" style="left:18.3px;top:31.3px">$BPDISC (Daily) 31.25</div>
<div class="t vol" style="left:17.2px;top:41.1px">Volume undef</div>
<div class="t leg" style="left:18.6px;top:398.2px;letter-spacing:0.32px">XLY 107.77</div>
<div class="ax" style="left:858.6px;top:368.4px">5</div>
<div class="ax" style="top:348.9px">10</div>
<div class="ax" style="top:329.5px">15</div>
<div class="ax" style="top:310.1px">20</div>
<div class="ax" style="top:290.6px">25</div>
<div class="ax" style="top:271.2px">30</div>
<div class="ax" style="top:251.7px">35</div>
<div class="ax" style="top:232.3px">40</div>
<div class="ax" style="top:212.9px">45</div>
<div class="ax" style="top:193.4px">50</div>
<div class="ax" style="top:174.0px">55</div>
<div class="ax" style="top:154.5px">60</div>
<div class="ax" style="top:135.1px">65</div>
<div class="ax" style="top:115.7px">70</div>
<div class="ax" style="top:96.2px">75</div>
<div class="ax" style="top:76.8px">80</div>
<div class="ax" style="top:57.3px">85</div>
<div class="ax" style="top:37.9px">90</div>
<div class="ax" style="left:853.4px;font-size:10.4px;top:509.9px">70</div>
<div class="ax" style="left:853.4px;font-size:10.4px;top:489.4px">80</div>
<div class="ax" style="left:853.4px;font-size:10.4px;top:468.6px">90</div>
<div class="ax" style="left:853.4px;font-size:10.4px;top:447.8px">100</div>
<div class="ax" style="left:853.4px;font-size:10.4px;top:427.0px">110</div>
<div class="ax" style="left:853.4px;font-size:10.4px;top:406.2px">120</div>
<div class="mo" style="left:4.199999999999999px;top:383.7px">J</div>
<div class="mo" style="left:4.199999999999999px;top:521.0px">J</div>
<div class="mo" style="left:29.2px;top:383.7px">J</div>
<div class="mo" style="left:29.2px;top:521.0px">J</div>
<div class="mo" style="left:52.2px;top:383.7px">A</div>
<div class="mo" style="left:52.2px;top:521.0px">A</div>
<div class="mo" style="left:78.2px;top:383.7px">S</div>
<div class="mo" style="left:78.2px;top:521.0px">S</div>
<div class="mo" style="left:101.2px;top:383.7px">O</div>
<div class="mo" style="left:101.2px;top:521.0px">O</div>
<div class="mo" style="left:127.2px;top:383.7px">N</div>
<div class="mo" style="left:127.2px;top:521.0px">N</div>
<div class="mo" style="left:151.2px;top:383.7px">D</div>
<div class="mo" style="left:151.2px;top:521.0px">D</div>
<div class="mo yr" style="left:172.6px;top:382.6px">24</div>
<div class="mo yr" style="left:172.6px;top:519.9000000000001px">24</div>
<div class="mo" style="left:199.2px;top:383.7px">F</div>
<div class="mo" style="left:199.2px;top:521.0px">F</div>
<div class="mo" style="left:222.2px;top:383.7px">M</div>
<div class="mo" style="left:222.2px;top:521.0px">M</div>
<div class="mo" style="left:245.2px;top:383.7px">A</div>
<div class="mo" style="left:245.2px;top:521.0px">A</div>
<div class="mo" style="left:271.2px;top:383.7px">M</div>
<div class="mo" style="left:271.2px;top:521.0px">M</div>
<div class="mo" style="left:296.2px;top:383.7px">J</div>
<div class="mo" style="left:296.2px;top:521.0px">J</div>
<div class="mo" style="left:318.2px;top:383.7px">J</div>
<div class="mo" style="left:318.2px;top:521.0px">J</div>
<div class="mo" style="left:344.2px;top:383.7px">A</div>
<div class="mo" style="left:344.2px;top:521.0px">A</div>
<div class="mo" style="left:369.2px;top:383.7px">S</div>
<div class="mo" style="left:369.2px;top:521.0px">S</div>
<div class="mo" style="left:392.2px;top:383.7px">O</div>
<div class="mo" style="left:392.2px;top:521.0px">O</div>
<div class="mo" style="left:419.2px;top:383.7px">N</div>
<div class="mo" style="left:419.2px;top:521.0px">N</div>
<div class="mo" style="left:442.2px;top:383.7px">D</div>
<div class="mo" style="left:442.2px;top:521.0px">D</div>
<div class="mo yr" style="left:464.6px;top:382.6px">25</div>
<div class="mo yr" style="left:464.6px;top:519.9000000000001px">25</div>
<div class="mo" style="left:489.2px;top:383.7px">F</div>
<div class="mo" style="left:489.2px;top:521.0px">F</div>
<div class="mo" style="left:511.2px;top:383.7px">M</div>
<div class="mo" style="left:511.2px;top:521.0px">M</div>
<div class="mo" style="left:536.2px;top:383.7px">A</div>
<div class="mo" style="left:536.2px;top:521.0px">A</div>
<div class="mo" style="left:560.2px;top:383.7px">M</div>
<div class="mo" style="left:560.2px;top:521.0px">M</div>
<div class="mo" style="left:584.2px;top:383.7px">J</div>
<div class="mo" style="left:584.2px;top:521.0px">J</div>
<div class="mo" style="left:608.2px;top:383.7px">J</div>
<div class="mo" style="left:608.2px;top:521.0px">J</div>
<div class="mo" style="left:633.2px;top:383.7px">A</div>
<div class="mo" style="left:633.2px;top:521.0px">A</div>
<div class="mo" style="left:657.2px;top:383.7px">S</div>
<div class="mo" style="left:657.2px;top:521.0px">S</div>
<div class="mo" style="left:682.2px;top:383.7px">O</div>
<div class="mo" style="left:682.2px;top:521.0px">O</div>
<div class="mo" style="left:708.2px;top:383.7px">N</div>
<div class="mo" style="left:708.2px;top:521.0px">N</div>
<div class="mo" style="left:730.2px;top:383.7px">D</div>
<div class="mo" style="left:730.2px;top:521.0px">D</div>
<div class="mo yr" style="left:754.6px;top:382.6px">26</div>
<div class="mo yr" style="left:754.6px;top:519.9000000000001px">26</div>
<div class="mo" style="left:779.2px;top:383.7px">F</div>
<div class="mo" style="left:779.2px;top:521.0px">F</div>
<div class="mo" style="left:801.2px;top:383.7px">M</div>
<div class="mo" style="left:801.2px;top:521.0px">M</div>
<div class="mo" style="left:827.2px;top:383.7px">A</div>
<div class="mo" style="left:827.2px;top:521.0px">A</div>
<div class="dl" style="left:3.4px;top:230.8px;width:26px">43.40</div>
<div class="dl" style="left:108.4px;top:364.8px;width:21px">9.26</div>
<div class="dl" style="left:113.4px;top:277.8px;width:26px">25.93</div>
<div class="dl" style="left:172.4px;top:68.8px;width:26px">79.63</div>
<div class="dl" style="left:244.4px;top:75.8px;width:26px">77.78</div>
<div class="dl" style="left:271.4px;top:227.8px;width:26px">44.44</div>
<div class="dl" style="left:329.4px;top:96.8px;width:26px">72.22</div>
<div class="dl" style="left:348.4px;top:284.8px;width:26px">29.63</div>
<div class="dl" style="left:375.4px;top:198.8px;width:26px">51.85</div>
<div class="dl" style="left:390.4px;top:60.8px;width:26px">81.48</div>
<div class="dl" style="left:417.4px;top:162.8px;width:26px">61.11</div>
<div class="dl" style="left:444.4px;top:39.8px;width:26px">87.04</div>
<div class="dl" style="left:473.4px;top:233.8px;width:26px">42.59</div>
<div class="dl" style="left:502.4px;top:154.8px;width:26px">57.41</div>
<div class="dl" style="left:522.4px;top:330.8px;width:26px">18.00</div>
<div class="dl" style="left:531.4px;top:175.8px;width:26px">52.00</div>
<div class="dl" style="left:544.4px;top:367.8px;width:21px">8.00</div>
<div class="dl" style="left:597.4px;top:182.8px;width:26px">56.00</div>
<div class="dl" style="left:616.4px;top:58.8px;width:26px">82.00</div>
<div class="dl" style="left:632.4px;top:149.8px;width:26px">64.00</div>
<div class="dl" style="left:662.4px;top:66.8px;width:26px">80.00</div>
<div class="dl" style="left:691.4px;top:275.8px;width:26px">32.00</div>
<div class="dl" style="left:702.4px;top:191.8px;width:26px">48.00</div>
<div class="dl" style="left:709.4px;top:290.8px;width:26px">28.00</div>
<div class="dl" style="left:734.4px;top:99.8px;width:26px">71.43</div>
<div class="dl" style="left:757.4px;top:185.8px;width:26px">55.10</div>
<div class="dl" style="left:763.4px;top:107.8px;width:26px">69.39</div>
<div class="dl" style="left:799.4px;top:123.8px;width:26px">65.31</div>
<div class="dl" style="left:817.4px;top:327.8px;width:26px">18.75</div>
</div>
</body></html>
